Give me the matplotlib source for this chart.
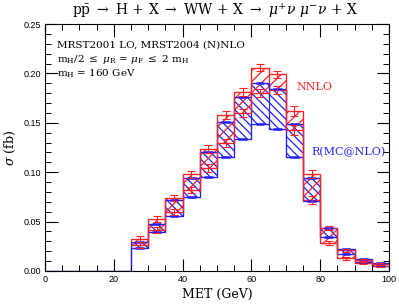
import numpy as np
import matplotlib
matplotlib.use('Agg')
import matplotlib.pyplot as plt
from matplotlib.ticker import MultipleLocator

plt.rcParams['mathtext.fontset'] = 'dejavuserif'
plt.rcParams['hatch.linewidth'] = 0.9

# MET bins (GeV), 5 GeV wide from 25 to 100
edges = np.arange(25, 101, 5)

# NNLO band (red): lower / upper scale variation, with MC errors
nnlo_lo = [0.026, 0.0415, 0.060, 0.082, 0.104, 0.1295, 0.1596, 0.180, 0.183,
           0.1427, 0.072, 0.028, 0.0128, 0.0078, 0.005]
nnlo_hi = [0.032, 0.0526, 0.0735, 0.0978, 0.1235, 0.158, 0.1815, 0.206, 0.199,
           0.162, 0.098, 0.0438, 0.021, 0.011, 0.0075]
nnlo_err = [0.003, 0.003, 0.003, 0.0035, 0.004, 0.004, 0.004, 0.004, 0.004,
            0.005, 0.004, 0.002, 0.0015, 0.001, 0.001]

# R(MC@NLO) band (blue)
mc_lo = [0.0236, 0.039, 0.0557, 0.075, 0.0948, 0.115, 0.134, 0.149, 0.144,
         0.1157, 0.071, 0.034, 0.0172, 0.0088, 0.0055]
mc_hi = [0.0297, 0.048, 0.072, 0.094, 0.1207, 0.151, 0.176, 0.190, 0.184,
         0.149, 0.094, 0.044, 0.022, 0.012, 0.0085]

red = '#ff2020'
blue = '#2020ff'

centers = 0.5 * (edges[:-1] + edges[1:])
nnlo_lo = np.array(nnlo_lo); nnlo_hi = np.array(nnlo_hi)
mc_lo = np.array(mc_lo); mc_hi = np.array(mc_hi)

fig = plt.figure(figsize=(3.99, 3.05), dpi=100)
ax = fig.add_axes([0.1128, 0.1115, 0.8622, 0.8095])

# hatched bands
ax.bar(centers, mc_hi - mc_lo, bottom=mc_lo, width=5, fill=False,
       hatch='\\\\\\\\', edgecolor=blue, linewidth=0.8)
ax.bar(centers, nnlo_hi - nnlo_lo, bottom=nnlo_lo, width=5, fill=False,
       hatch='///', edgecolor=red, linewidth=0.8)

# step outlines (blue starts at zero below 25 GeV)
full_edges = np.arange(0, 101, 5)
pad = np.zeros(5)
ax.stairs(np.concatenate([pad, mc_lo]), full_edges, color=blue, lw=0.9, baseline=None)
ax.stairs(np.concatenate([pad, mc_hi]), full_edges, color=blue, lw=0.9, baseline=None)
ax.stairs(nnlo_lo, edges, color=red, lw=0.9, baseline=None)
ax.stairs(nnlo_hi, edges, color=red, lw=0.9, baseline=None)

# blue central markers, red error bars
ax.hlines(mc_lo, centers - 1.3, centers + 1.3, colors=blue, lw=1.8)
ax.hlines(mc_hi, centers - 1.3, centers + 1.3, colors=blue, lw=1.8)
for v in (nnlo_lo, nnlo_hi):
    ax.errorbar(centers, v, yerr=nnlo_err, fmt='none', ecolor=red,
                elinewidth=0.8, capsize=3, capthick=0.8)

ax.set_xlim(0, 100)
ax.set_ylim(0, 0.25)
ax.xaxis.set_major_locator(MultipleLocator(20))
ax.xaxis.set_minor_locator(MultipleLocator(5))
ax.yaxis.set_major_locator(MultipleLocator(0.05))
ax.yaxis.set_minor_locator(MultipleLocator(0.01))
ax.tick_params(which='both', direction='in', top=True, right=True,
               labelsize=6.5, pad=3)
ax.tick_params(which='major', length=9, width=0.8)
ax.tick_params(which='minor', length=4, width=0.7)
ax.set_yticklabels(['%.2f' % t for t in ax.get_yticks()])
for lab in ax.get_xticklabels() + ax.get_yticklabels():
    lab.set_family('Liberation Sans')

ax.set_xlabel('MET (GeV)', family='DejaVu Serif', fontsize=9, labelpad=3)
ax.set_ylabel(r'$\sigma$ (fb)', family='DejaVu Serif', fontsize=9, labelpad=4)

fig.text(0.54, 0.965,
         r'p$\bar{\rm p}$ $\rightarrow$ H + X $\rightarrow$ WW + X $\rightarrow$ $\mu^{+}\nu\ \mu^{-}\nu$ + X',
         ha='center', va='center', family='DejaVu Serif', fontsize=10)

ax.text(0.035, 0.915, 'MRST2001 LO, MRST2004 (N)NLO', transform=ax.transAxes,
        family='DejaVu Serif', fontsize=7.5, va='center')
ax.text(0.035, 0.857, r'm$_{\rm H}$/2 $\leq$ $\mu_{\rm R}$ = $\mu_{\rm F}$ $\leq$ 2 m$_{\rm H}$',
        transform=ax.transAxes, family='DejaVu Serif', fontsize=7.5, va='center')
ax.text(0.035, 0.797, r'm$_{\rm H}$ = 160 GeV', transform=ax.transAxes,
        family='DejaVu Serif', fontsize=7.5, va='center')

ax.text(73, 0.186, 'NNLO', color=red, family='DejaVu Serif', fontsize=8, va='center')
ax.text(77.5, 0.120, 'R(MC@NLO)', color=blue, family='DejaVu Serif', fontsize=8, va='center')

fig.savefig('out.png', dpi=100)
